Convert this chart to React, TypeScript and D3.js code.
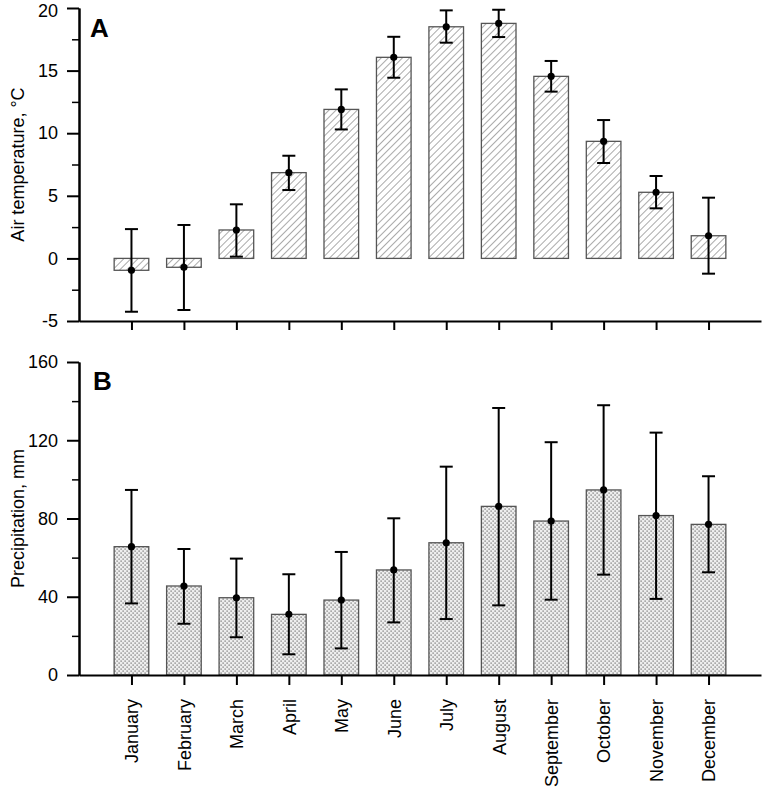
import React, { useEffect, useRef } from "react";
import * as d3 from "d3";

const months = [
  "January", "February", "March", "April", "May", "June",
  "July", "August", "September", "October", "November", "December",
];

// air temperature, °C (mean and error bar limits)
const tempMean = [-0.95, -0.71, 2.27, 6.85, 11.9, 16.06, 18.5, 18.77, 14.54, 9.35, 5.28, 1.81];
const tempLow = [-4.26, -4.12, 0.14, 5.46, 10.3, 14.43, 17.23, 17.68, 13.32, 7.62, 4.0, -1.22];
const tempHigh = [2.34, 2.67, 4.32, 8.2, 13.5, 17.7, 19.81, 19.86, 15.77, 11.05, 6.58, 4.85];

// precipitation, mm
const precMean = [65.6, 45.5, 39.5, 31.0, 38.3, 53.7, 67.6, 86.2, 78.7, 94.6, 81.5, 77.0];
const precLow = [36.6, 26.2, 19.3, 10.6, 13.6, 26.9, 28.6, 35.6, 38.5, 51.3, 38.9, 52.5];
const precHigh = [94.6, 64.4, 59.5, 51.5, 62.9, 80.1, 106.5, 136.5, 119, 137.9, 123.9, 101.6];

const tempTicks = [-5, 0, 5, 10, 15, 20];
const tempMinor = [-2.5, 2.5, 7.5, 12.5, 17.5];
const precTicks = [0, 40, 80, 120, 160];
const precMinor = [20, 60, 100, 140];

const FONT = "'Liberation Sans', Arial, Helvetica, sans-serif";
const W = 762;
const H = 790;
const axisX = 79;

const x = d3.scaleLinear().domain([0, 13]).range([axisX, 761]);
const yA = d3.scaleLinear().domain([-5, 20]).range([321, 8]);
const yB = d3.scaleLinear().domain([0, 160]).range([675, 362]);
const half = 0.33;

const App: React.FC = () => {
  const yAxisA = useRef(null);
  const yMinorA = useRef(null);
  const xAxisA = useRef(null);
  const yAxisB = useRef(null);
  const yMinorB = useRef(null);
  const xAxisB = useRef(null);

  useEffect(() => {
    const style = (g: any, sw = 2) => {
      g.select(".domain").attr("stroke", "#000").attr("stroke-width", 2);
      g.selectAll(".tick line").attr("stroke", "#000").attr("stroke-width", sw);
      g.selectAll(".tick text")
        .attr("font-family", FONT)
        .attr("font-size", 18)
        .attr("fill", "#000");
    };
    const plain = (d: any) => String(d); // hyphen minus, like the original

    const yA_ = d3.axisLeft(yA).tickValues(tempTicks).tickSize(12).tickSizeOuter(0).tickPadding(9).tickFormat(plain);
    const gyA = d3.select(yAxisA.current).call(yA_ as any).call((g: any) => style(g));
    // keep the top label inside the page
    gyA.selectAll(".tick text").filter((d: any) => d === 20).attr("y", 3);
    const yAm = d3.axisLeft(yA).tickValues(tempMinor).tickSize(7).tickSizeOuter(0).tickFormat(() => "");
    d3.select(yMinorA.current).call(yAm as any).call((g: any) => style(g, 1.5));

    const xA_ = d3.axisBottom(x).tickValues(d3.range(1, 13)).tickSize(9).tickSizeOuter(0).tickFormat(() => "");
    d3.select(xAxisA.current).call(xA_ as any).call((g: any) => style(g));

    const yB_ = d3.axisLeft(yB).tickValues(precTicks).tickSize(12).tickSizeOuter(0).tickPadding(9).tickFormat(plain);
    d3.select(yAxisB.current).call(yB_ as any).call((g: any) => style(g));
    const yBm = d3.axisLeft(yB).tickValues(precMinor).tickSize(7).tickSizeOuter(0).tickFormat(() => "");
    d3.select(yMinorB.current).call(yBm as any).call((g: any) => style(g, 1.5));

    const xB_ = d3.axisBottom(x).tickValues(d3.range(1, 13)).tickSize(10).tickSizeOuter(0)
      .tickFormat((d: any) => months[d - 1]);
    const gx = d3.select(xAxisB.current).call(xB_ as any).call((g: any) => style(g));
    gx.selectAll(".tick text")
      .attr("font-size", 18)
      .attr("text-anchor", "end")
      .attr("transform", "rotate(-90)")
      .attr("x", -24)
      .attr("y", 0)
      .attr("dy", "0.35em");
  }, []);

  const errBars = (mean: number[], lo: number[], hi: number[], y: any) =>
    mean.map((m, i) => {
      const cx = x(i + 1);
      return (
        <g key={i}>
          <line x1={cx} x2={cx} y1={y(hi[i])} y2={y(lo[i])} stroke="#000" strokeWidth={2} />
          <line x1={cx - 6.5} x2={cx + 6.5} y1={y(hi[i])} y2={y(hi[i])} stroke="#000" strokeWidth={2} />
          <line x1={cx - 6.5} x2={cx + 6.5} y1={y(lo[i])} y2={y(lo[i])} stroke="#000" strokeWidth={2} />
          <circle cx={cx} cy={y(m)} r={3.6} fill="#000" />
        </g>
      );
    });

  return (
    <svg width={W} height={H} style={{ position: "absolute", left: 0, top: 0 }}>
      <defs>
        <pattern id="hatch" patternUnits="userSpaceOnUse" width={5} height={5} patternTransform="rotate(45)">
          <rect width={5} height={5} fill="#fff" />
          <line x1={0} y1={0} x2={0} y2={5} stroke="#555" strokeWidth={1} />
        </pattern>
        <pattern id="dots" patternUnits="userSpaceOnUse" width={4} height={4}>
          <rect width={4} height={4} fill="#eeeeee" />
          <rect x={0.5} y={0.5} width={1.2} height={1.2} fill="#666" />
          <rect x={2.5} y={2.5} width={1.2} height={1.2} fill="#666" />
        </pattern>
      </defs>
      <rect width={W} height={H} fill="#fff" />

      {/* panel A: air temperature */}
      <g>
        {tempMean.map((v, i) => (
          <rect
            key={i}
            x={x(i + 1 - half)}
            width={x(i + 1 + half) - x(i + 1 - half)}
            y={Math.min(yA(v), yA(0))}
            height={Math.abs(yA(v) - yA(0))}
            fill="url(#hatch)"
            stroke="#555"
            strokeWidth={1.3}
          />
        ))}
        {errBars(tempMean, tempLow, tempHigh, yA)}
        <g ref={yMinorA} transform={`translate(${axisX},0)`} />
        <g ref={yAxisA} transform={`translate(${axisX},0)`} />
        <g ref={xAxisA} transform={`translate(0,${yA(-5)})`} />
        <text x={90} y={37} fontFamily={FONT} fontWeight="bold" fontSize={26}>A</text>
        <text
          transform={`translate(24,${(yA(20) + yA(-5)) / 2}) rotate(-90)`}
          textAnchor="middle"
          fontFamily={FONT}
          fontSize={18}
        >
          Air temperature, °C
        </text>
      </g>

      {/* panel B: precipitation */}
      <g>
        {precMean.map((v, i) => (
          <rect
            key={i}
            x={x(i + 1 - half)}
            width={x(i + 1 + half) - x(i + 1 - half)}
            y={yB(v)}
            height={yB(0) - yB(v)}
            fill="url(#dots)"
            stroke="#555"
            strokeWidth={1.3}
          />
        ))}
        {errBars(precMean, precLow, precHigh, yB)}
        <g ref={yMinorB} transform={`translate(${axisX},0)`} />
        <g ref={yAxisB} transform={`translate(${axisX},0)`} />
        <g ref={xAxisB} transform={`translate(0,${yB(0)})`} />
        <text x={93} y={390} fontFamily={FONT} fontWeight="bold" fontSize={26}>B</text>
        <text
          transform={`translate(24,${(yB(160) + yB(0)) / 2}) rotate(-90)`}
          textAnchor="middle"
          fontFamily={FONT}
          fontSize={18}
        >
          Precipitation, mm
        </text>
      </g>
    </svg>
  );
};

export default App;
